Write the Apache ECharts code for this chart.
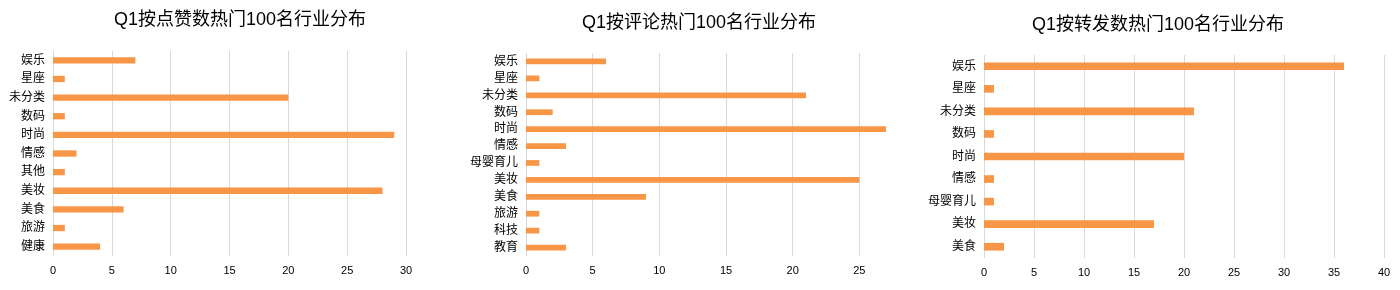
<!DOCTYPE html>
<html>
<head>
<meta charset="utf-8">
<script src="https://cdn.jsdelivr.net/npm/echarts@6/dist/echarts.min.js"></script>
<style>
  html, body { margin: 0; padding: 0; background: #fff; }
  #main { width: 1400px; height: 290px; }
</style>
</head>
<body>
<div id="main"></div>
<script>
// 点赞
const likeTitle = "Q1按点赞数热门100名行业分布";
const likeCats = ["娱乐", "星座", "未分类", "数码", "时尚", "情感", "其他", "美妆", "美食", "旅游", "健康"];
const likeVals = [7, 1, 20, 1, 29, 2, 1, 28, 6, 1, 4];
// 评论
const commentTitle = "Q1按评论热门100名行业分布";
const commentCats = ["娱乐", "星座", "未分类", "数码", "时尚", "情感", "母婴育儿", "美妆", "美食", "旅游", "科技", "教育"];
const commentVals = [6, 1, 21, 2, 27, 3, 1, 25, 9, 1, 1, 3];
// 转发
const shareTitle = "Q1按转发数热门100名行业分布";
const shareCats = ["娱乐", "星座", "未分类", "数码", "时尚", "情感", "母婴育儿", "美妆", "美食"];
const shareVals = [36, 1, 21, 1, 20, 1, 1, 17, 2];

const FONT = "'Liberation Sans', 'Noto Sans CJK SC', sans-serif";
const BAR = "#F79646";
const GRID_LINE = "#d9d9d9";

// 每个小图的布局
const panels = [
  { title: likeTitle, cats: likeCats, vals: likeVals, cx: 240, ty: 11, grid: { left: 53, top: 51, width: 353, height: 205 }, max: 30 },
  { title: commentTitle, cats: commentCats, vals: commentVals, cx: 699, ty: 14, grid: { left: 526, top: 53, width: 360, height: 203 }, max: 27 },
  { title: shareTitle, cats: shareCats, vals: shareVals, cx: 1158, ty: 16, grid: { left: 984, top: 55, width: 400, height: 203 }, max: 40 },
];

const mychart = echarts.init(document.getElementById("main"));

mychart.setOption({
  animation: false,
  textStyle: { fontFamily: FONT },
  title: panels.map((p) => ({
    text: p.title,
    left: p.cx,
    top: p.ty,
    textAlign: "center",
    padding: 0,
    textStyle: { fontSize: 18, fontWeight: "normal", color: "#000", fontFamily: FONT },
  })),
  grid: panels.map((p) => p.grid),
  xAxis: panels.map((p, i) => ({
    type: "value",
    gridIndex: i,
    min: 0,
    max: p.max,
    interval: 5,
    axisLine: { show: false },
    axisTick: { show: false },
    axisLabel: { fontSize: 11, color: "#000", margin: 9, showMaxLabel: p.max % 5 === 0, fontFamily: FONT },
    splitLine: { lineStyle: { color: GRID_LINE, width: 1 }, showMaxLine: p.max % 5 === 0 },
  })),
  yAxis: panels.map((p, i) => ({
    type: "category",
    gridIndex: i,
    data: p.cats,
    inverse: true,
    axisLine: { show: false },
    axisTick: { show: false },
    axisLabel: { fontSize: 12, color: "#000", margin: 8, fontFamily: FONT },
  })),
  series: panels.map((p, i) => ({
    type: "bar",
    xAxisIndex: i,
    yAxisIndex: i,
    data: p.vals,
    barWidth: "34%",
    itemStyle: { color: BAR },
  })),
});
</script>
</body>
</html>
